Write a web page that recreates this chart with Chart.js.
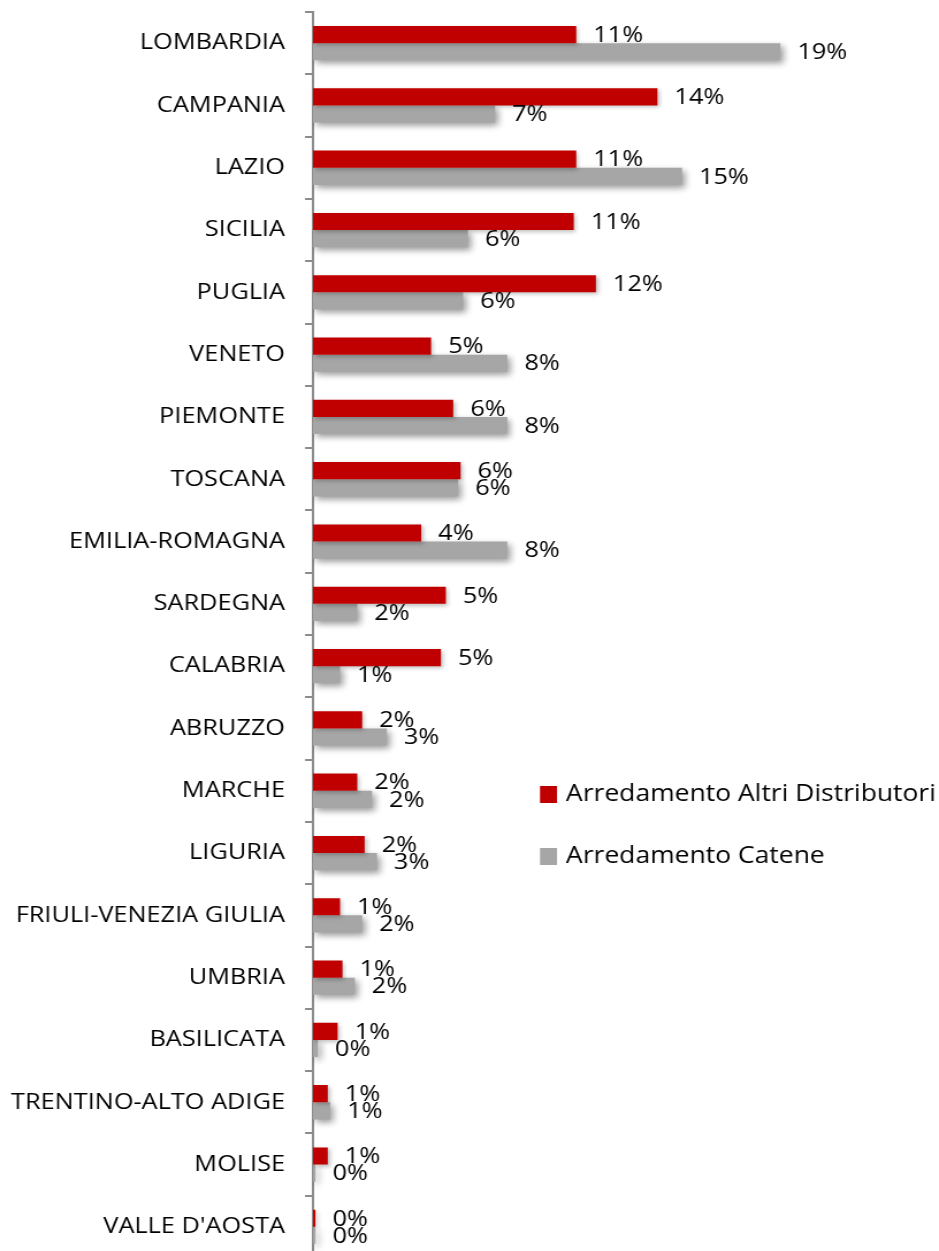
<!DOCTYPE html>
<html>
<head>
<meta charset="utf-8">
<script src="https://cdn.jsdelivr.net/npm/chart.js@4/dist/chart.umd.min.js"></script>
<style>
  html, body { margin: 0; padding: 0; background: #fff; overflow: hidden; }
  #wrap { width: 816px; height: 1262px; transform: scaleX(1.150735); transform-origin: 0 0; }
</style>
</head>
<body>
<div id="wrap"><canvas id="regioni"></canvas></div>
<script>
'use strict';

const regioni = ['LOMBARDIA', 'CAMPANIA', 'LAZIO', 'SICILIA', 'PUGLIA', 'VENETO', 'PIEMONTE', 'TOSCANA',
    'EMILIA-ROMAGNA', 'SARDEGNA', 'CALABRIA', 'ABRUZZO', 'MARCHE', 'LIGURIA', 'FRIULI-VENEZIA GIULIA',
    'UMBRIA', 'BASILICATA', 'TRENTINO-ALTO ADIGE', 'MOLISE', "VALLE D'AOSTA"];
const altriDistributori = [10.7, 14.0, 10.7, 10.6, 11.5, 4.8, 5.7, 6.0, 4.4, 5.4, 5.2, 2.0, 1.8, 2.1, 1.1, 1.2, 1.0, 0.6, 0.6, 0.1];
const catene = [19.0, 7.4, 15.0, 6.3, 6.1, 7.9, 7.9, 5.9, 7.9, 1.8, 1.1, 3.0, 2.4, 2.6, 2.0, 1.7, 0.2, 0.7, 0.1, 0.1];
const serieNomi = ['Arredamento Altri Distributori', 'Arredamento Catene'];
const serieColori = ['#C00000', '#A6A6A6'];

// the canvas is drawn narrower and widened by the CSS transform on #wrap,
// so horizontal sizes are given in page pixels and divided by S
const S = 939 / 816;
const px = (v) => v / S;

const FAMIGLIA = "'Open Sans', sans-serif";
const DIM = 22;
const DIM_LEGENDA = 23;

// soft drop shadow under each bar series
const ombre = [
    {'color': 'rgba(0, 0, 0, 0.25)', 'blur': 4, 'dx': 2, 'dy': 2},
    {'color': 'rgba(0, 0, 0, 0.40)', 'blur': 6, 'dx': 3, 'dy': 3}
];
const ombraPlugin = {
    'id': 'ombra',
    beforeDatasetDraw(chart, args) {
        const o = ombre[args.index];
        const ctx = chart.ctx;
        ctx.save();
        ctx.shadowColor = o.color;
        ctx.shadowBlur = o.blur;
        ctx.shadowOffsetX = px(o.dx);
        ctx.shadowOffsetY = o.dy;
    },
    afterDatasetDraw(chart) {
        chart.ctx.restore();
    }
};

// percentage next to the end of every bar
const etichettePlugin = {
    'id': 'etichette',
    afterDatasetsDraw(chart) {
        const ctx = chart.ctx;
        ctx.save();
        ctx.font = DIM + 'px ' + FAMIGLIA;
        ctx.fillStyle = '#000';
        ctx.textAlign = 'left';
        ctx.textBaseline = 'middle';
        chart.data.datasets.forEach((ds, i) => {
            chart.getDatasetMeta(i).data.forEach((bar, j) => {
                ctx.fillText(Math.round(ds.data[j]) + '%', bar.x + px(17), bar.y + 1);
            });
        });
        ctx.restore();
    }
};

// legend sitting inside the plot, on the right
const legendaPlugin = {
    'id': 'legenda',
    afterDraw(chart) {
        const ctx = chart.ctx;
        ctx.save();
        ctx.font = DIM_LEGENDA + 'px ' + FAMIGLIA;
        ctx.textAlign = 'left';
        ctx.textBaseline = 'middle';
        chart.data.datasets.forEach((ds, i) => {
            const y = 794 + i * 62;
            ctx.fillStyle = ds.backgroundColor;
            ctx.fillRect(px(540), y - 8, px(17), 17);
            ctx.fillStyle = '#000';
            ctx.fillText(ds.label, px(566), y);
        });
        ctx.restore();
    }
};

const ctx = document.getElementById('regioni').getContext('2d');
const grafico = new Chart(ctx, {
    'type': 'bar',
    'data': {
        'labels': regioni,
        'datasets': [
            {
                'label': serieNomi[0],
                'data': altriDistributori,
                'backgroundColor': serieColori[0]
            },
            {
                'label': serieNomi[1],
                'data': catene,
                'backgroundColor': serieColori[1]
            }
        ]
    },
    'options': {
        'indexAxis': 'y',
        'responsive': true,
        'maintainAspectRatio': false,
        'animation': false,
        'datasets': {
            'bar': {'categoryPercentage': 0.55, 'barPercentage': 1.0}
        },
        'layout': {'padding': {'left': 0, 'top': 12, 'right': 816 - px(313) - px(24.6) * 25, 'bottom': 4}},
        'plugins': {
            'legend': {'display': false},
            'tooltip': {'enabled': false}
        },
        'scales': {
            'x': {'display': false, 'min': 0, 'max': 25},
            'y': {
                afterFit(scale) {
                    scale.width = px(313);
                    scale.paddingTop = 0;
                    scale.paddingBottom = 0;
                },
                'border': {'color': '#8C8C8C', 'width': 2},
                'grid': {'drawOnChartArea': false, 'tickLength': px(8), 'color': '#8C8C8C', 'lineWidth': 2, 'offset': true},
                'ticks': {'color': '#000', 'padding': px(20), 'autoSkip': false, 'font': {'family': FAMIGLIA, 'size': DIM}}
            }
        }
    },
    'plugins': [ombraPlugin, etichettePlugin, legendaPlugin]
});
</script>
</body>
</html>
